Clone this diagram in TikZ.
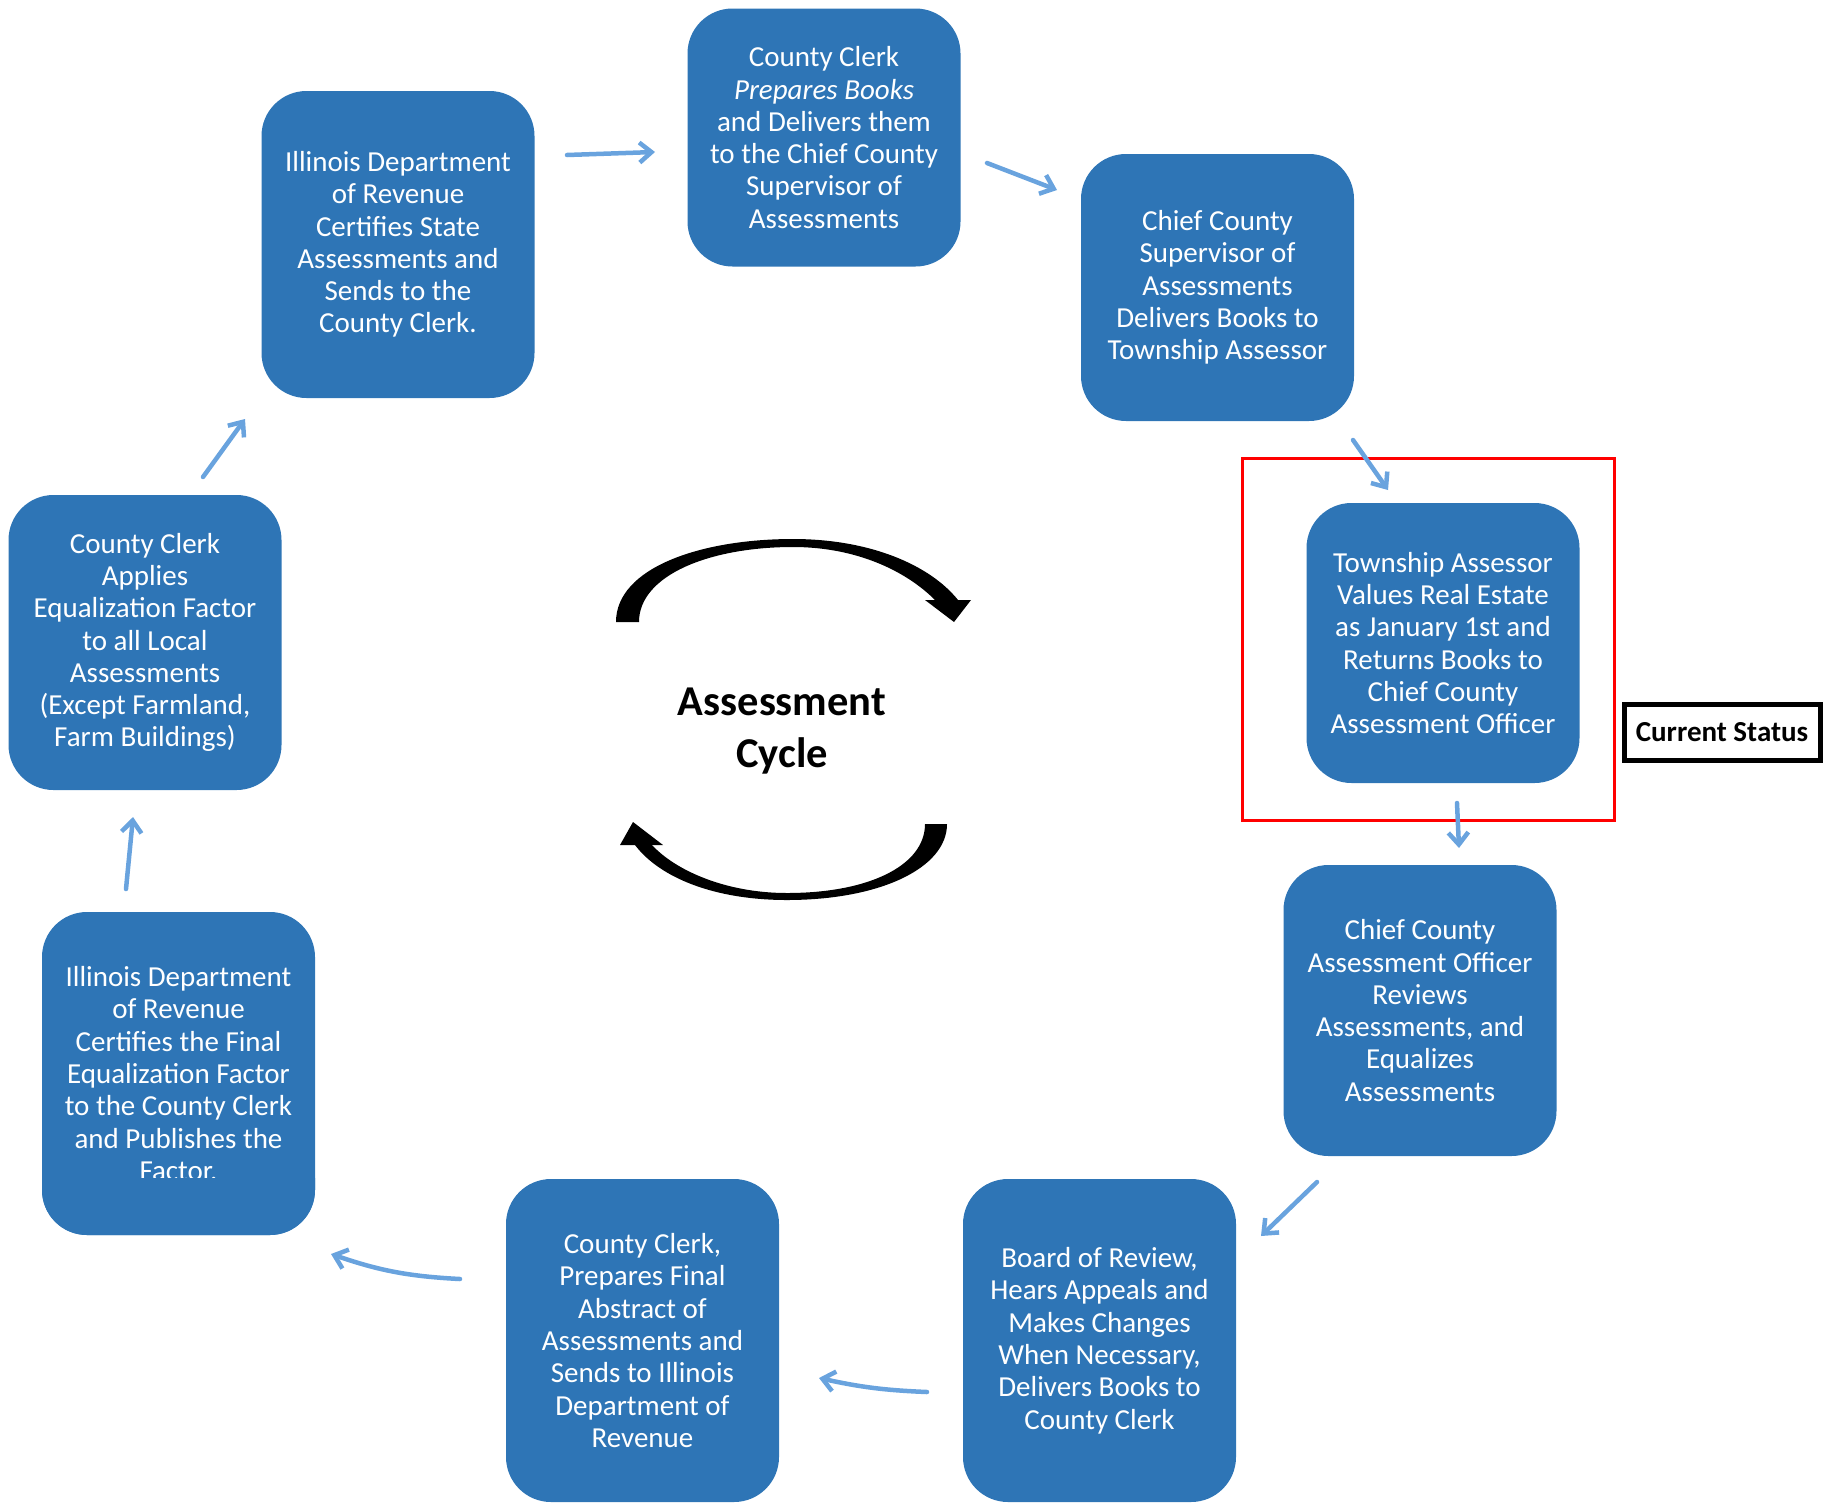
\documentclass[tikz,border=0pt]{standalone}
\usepackage{fontspec}
\setmainfont{Carlito}
\usetikzlibrary{arrows.meta}
\definecolor{boxblue}{RGB}{46,117,182}
\definecolor{arrowblue}{RGB}{105,163,222}
\begin{document}
\begin{tikzpicture}[x=1pt,y=-1pt,
  stepbox/.style={fill=boxblue, rounded corners=45pt, text=white, align=center,
    inner sep=0pt, font=\fontsize{29}{32.3}\selectfont, minimum width=273pt},
  flow/.style={draw=arrowblue, line width=4.5pt, line cap=round,
    -{Straight Barb[length=12pt,width=20pt]}},
  cyclearrow/.style={fill=black},
]
\useasboundingbox (0,0) rectangle (1827,1502);

% boxes
\node[stepbox, minimum height=307pt] (n1) at (398,244.5)
  {Illinois Department\\of Revenue\\Certifies State\\Assessments and\\Sends to the\\County Clerk.};
\node[stepbox, minimum height=258pt] (n2) at (824,137.5)
  {County Clerk\\\textit{Prepares Books}\\and Delivers them\\to the Chief County\\Supervisor of\\Assessments};
\node[stepbox, minimum height=267pt] (n3) at (1217.5,287.5)
  {Chief County\\Supervisor of\\Assessments\\Delivers Books to\\Township Assessor};
\node[stepbox, minimum height=280pt] (n4) at (1443,643)
  {Township Assessor\\Values Real Estate\\as January 1st and\\Returns Books to\\Chief County\\Assessment Officer};
\node[stepbox, minimum height=291pt] (n5) at (1420,1010.5)
  {Chief County\\Assessment Officer\\Reviews\\Assessments, and\\Equalizes\\Assessments};
\node[stepbox, minimum height=323pt] (n6) at (1099.5,1340.5)
  {Board of Review,\\Hears Appeals and\\Makes Changes\\When Necessary,\\Delivers Books to\\County Clerk};
\node[stepbox, minimum height=323pt] (n7) at (642.5,1340.5)
  {County Clerk,\\Prepares Final\\Abstract of\\Assessments and\\Sends to Illinois\\Department of\\Revenue};
\node[stepbox, minimum height=323pt] (n8) at (178.5,1073.5)
  {Illinois Department\\of Revenue\\Certifies the Final\\Equalization Factor\\to the County Clerk\\and Publishes the\\Factor.};
\begin{scope}
  \clip (0,1178) rectangle (400,1300);
  \fill[boxblue, rounded corners=45pt] (42,912) rectangle (315,1235);
\end{scope}
\node[stepbox, minimum height=295pt] (n9) at (145,642.5)
  {County Clerk\\Applies\\Equalization Factor\\to all Local\\Assessments\\(Except Farmland,\\Farm Buildings)};

% highlight and status
\node[draw=red, line width=3pt, minimum width=372pt, minimum height=362pt, inner sep=0pt] (hl) at (1428,639) {};
\node[draw=black, line width=5pt, minimum width=196pt, minimum height=56pt, inner sep=0pt,
  font=\bfseries\fontsize{29}{33}\selectfont] (status) at (1722,732) {Current Status};

% connectors
\coordinate (a1s) at (567,155);  \coordinate (a1e) at (655,152);
\coordinate (a2s) at (987,163);  \coordinate (a2e) at (1057,190);
\coordinate (a3s) at (1353,440); \coordinate (a3e) at (1388,490);
\coordinate (a4s) at (1457,803); \coordinate (a4e) at (1459,848);
\coordinate (a5s) at (1317,1182);\coordinate (a5e) at (1261,1236);
\coordinate (a6s) at (927,1392); \coordinate (a6e) at (819,1378);
\coordinate (a7s) at (460,1279); \coordinate (a7e) at (331,1254);
\coordinate (a8s) at (126,889);  \coordinate (a8e) at (133,817);
\coordinate (a9s) at (203,477);  \coordinate (a9e) at (245,419);
\draw[flow] (a1s) -- (a1e);
\draw[flow] (a2s) -- (a2e);
\draw[flow] (a3s) -- (a3e);
\draw[flow] (a4s) -- (a4e);
\draw[flow] (a5s) -- (a5e);
\draw[flow] (a6s) to[bend left=5] (a6e);
\draw[flow] (a7s) to[bend left=8] (a7e);
\draw[flow] (a8s) -- (a8e);
\draw[flow] (a9s) -- (a9e);

% center cycle
\node[font=\bfseries\fontsize{42.5}{52}\selectfont, align=center, inner sep=0pt] (title) at (782,731)
  {Assessment\\Cycle};
\fill[cyclearrow] (616,622) .. controls (616,568) and (700,539) .. (793,539)
  .. controls (870,539) and (930,565) .. (958,600) -- (935,600)
  .. controls (905,570) and (855,547) .. (793,547)
  .. controls (710,547) and (639,575) .. (639,622) -- cycle;
\fill[cyclearrow] (925,600) -- (971,600) -- (954,622) -- cycle;
\fill[cyclearrow] (947,824) .. controls (947,868) and (880,900) .. (787,900)
  .. controls (715,900) and (660,878) .. (635,845) -- (652,845)
  .. controls (675,870) and (725,893) .. (787,893)
  .. controls (870,893) and (925,865) .. (925,824) -- cycle;
\fill[cyclearrow] (620,845) -- (663,845) -- (633,822) -- cycle;
\end{tikzpicture}
\end{document}
